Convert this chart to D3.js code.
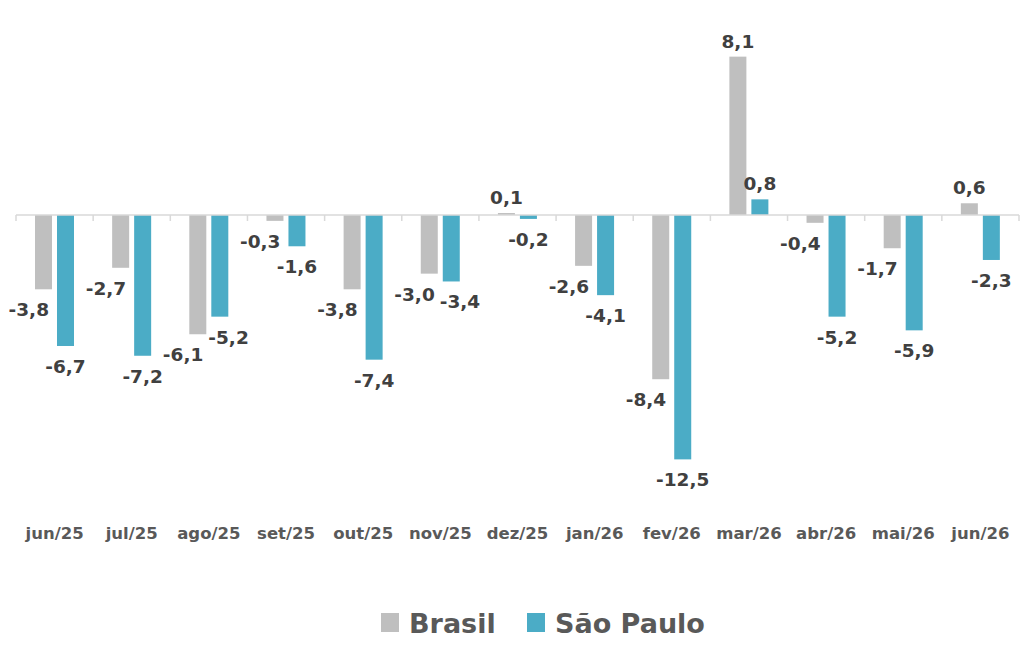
<!DOCTYPE html>
<html>
<head>
<meta charset="utf-8">
<script src="https://cdn.jsdelivr.net/npm/d3@7"></script>
<style>
  body { margin: 0; background: #fff; }
  svg text { font-family: "DejaVu Sans", sans-serif; font-weight: bold; }
</style>
</head>
<body>
<div id="chart"></div>
<script>
'use strict';

var categories = ['jun/25', 'jul/25', 'ago/25', 'set/25', 'out/25', 'nov/25', 'dez/25',
  'jan/26', 'fev/26', 'mar/26', 'abr/26', 'mai/26', 'jun/26'];
var seriesNames = ['Brasil', 'São Paulo'];
var brasil = [-3.8, -2.7, -6.1, -0.3, -3.8, -3.0, 0.1, -2.6, -8.4, 8.1, -0.4, -1.7, 0.6];
var saoPaulo = [-6.7, -7.2, -5.2, -1.6, -7.4, -3.4, -0.2, -4.1, -12.5, 0.8, -5.2, -5.9, -2.3];
var colors = ['#bfbfbf', '#4bacc6'];

var width = 1024, height = 648;
var svg = d3.select('#chart').append('svg')
    .attr('width', width)
    .attr('height', height);

var x = d3.scaleBand()
    .domain(categories)
    .range([16, 1019]);

var x1 = d3.scaleBand()
    .domain(seriesNames)
    .range([19, 58])
    .paddingInner(0.227);

var y = d3.scaleLinear()
    .domain([-14, 10])
    .range([488.7, 19.5]);

// comma decimal, plain hyphen for the sign
var fmt = function(v) {
  return d3.format('.1f')(v).replace('.', ',').replace('\u2212', '-');
};

var rows = categories.map(function(c, i) {
  return { cat: c, values: [brasil[i], saoPaulo[i]] };
});

// bars
var groups = svg.selectAll('.grp')
    .data(rows)
    .enter().append('g')
    .attr('class', 'grp')
    .attr('transform', function(d) { return 'translate(' + x(d.cat) + ',0)'; });

groups.selectAll('rect')
    .data(function(d) { return d.values.map(function(v, j) { return { v: v, s: seriesNames[j], j: j }; }); })
    .enter().append('rect')
    .attr('x', function(d) { return x1(d.s); })
    .attr('width', x1.bandwidth())
    .attr('y', function(d) { return y(Math.max(0, d.v)); })
    .attr('height', function(d) { return Math.abs(y(d.v) - y(0)); })
    .attr('fill', function(d) { return colors[d.j]; });

// axis line with boundary ticks
var y0 = y(0);
svg.append('line')
    .attr('x1', x.range()[0]).attr('x2', x.range()[1])
    .attr('y1', y0).attr('y2', y0)
    .attr('stroke', '#d9d9d9').attr('stroke-width', 1.5);

var bounds = categories.map(function(c) { return x(c); }).concat([x.range()[1]]);
svg.selectAll('.tk')
    .data(bounds)
    .enter().append('line')
    .attr('x1', function(d) { return d; }).attr('x2', function(d) { return d; })
    .attr('y1', y0).attr('y2', y0 + 6)
    .attr('stroke', '#d9d9d9').attr('stroke-width', 1.5);

// category labels
svg.selectAll('.cat')
    .data(categories)
    .enter().append('text')
    .attr('x', function(d) { return x(d) + x.bandwidth() / 2; })
    .attr('y', 539)
    .attr('text-anchor', 'middle')
    .attr('font-size', 16.5)
    .attr('fill', '#595959')
    .text(function(d) { return d; });

// data labels
var fs = 18.5;
rows.forEach(function(r) {
  var gx = x(r.cat);
  var placed = [];
  r.values.forEach(function(v, j) {
    var bx = gx + x1(seriesNames[j]);
    var bw = x1.bandwidth();
    var base = v >= 0 ? y(v) - 9 : y(v) + 27;
    var t = svg.append('text')
        .attr('y', base)
        .attr('font-size', fs)
        .attr('fill', '#404040')
        .text(fmt(v));
    var w = t.node().getComputedTextLength();
    var lx;
    if (v < 0 && j === 0) {
      lx = bx + bw - w - 3;
    } else {
      lx = bx + bw / 2 - w / 2;
    }
    placed.forEach(function(p) {
      var overlapY = Math.abs(p.base - base) < fs;
      var overlapX = lx < p.x + p.w + 4 && lx + w > p.x;
      if (overlapY && overlapX) lx = p.x + p.w + 5;
    });
    t.attr('x', lx);
    placed.push({ x: lx, w: w, base: base });
  });
});

// legend
var legend = svg.append('g').attr('transform', 'translate(381,613)');
var legX = [0, 146];
seriesNames.forEach(function(s, j) {
  var g = legend.append('g').attr('transform', 'translate(' + legX[j] + ',0)');
  g.append('rect')
      .attr('width', 18).attr('height', 19)
      .attr('fill', colors[j]);
  g.append('text')
      .attr('x', 28).attr('y', 20)
      .attr('font-size', 27)
      .attr('fill', '#595959')
      .text(s);
});
</script>
</body>
</html>
